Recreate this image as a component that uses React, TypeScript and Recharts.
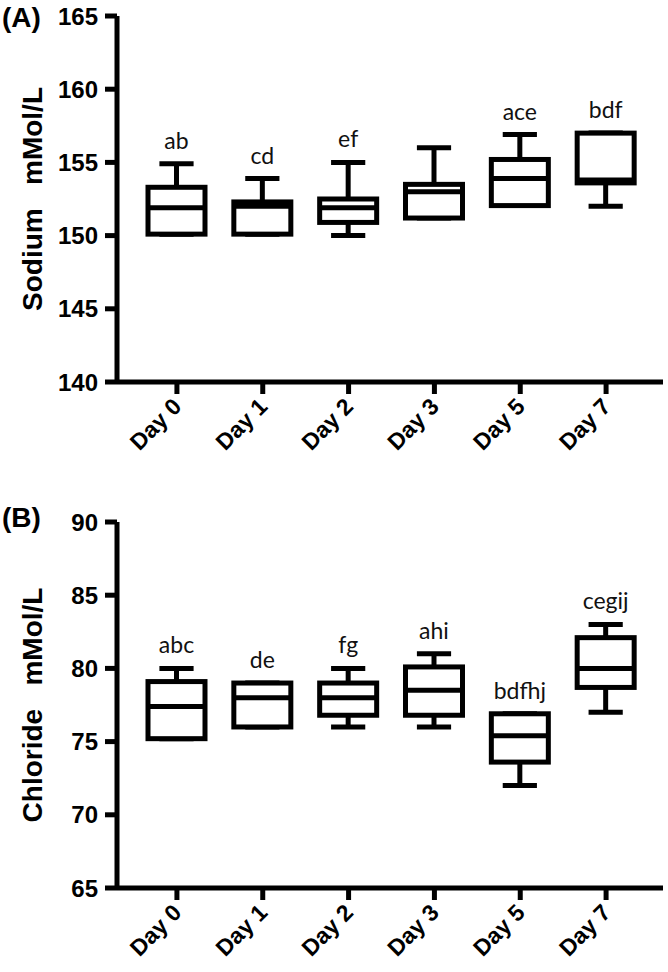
import * as React from "react";
import { ComposedChart, Bar, XAxis, YAxis } from "recharts";

// categories
const days = ["Day 0", "Day 1", "Day 2", "Day 3", "Day 5", "Day 7"];

// (A) sodium, mMol/L
const sodiumMin = [150.1, 150.1, 150, 151.2, 152.05, 152];
const sodiumQ1 = [150.1, 150.1, 150.9, 151.2, 152.05, 153.6];
const sodiumMedian = [151.9, 152.0, 151.9, 153.0, 153.9, 153.8];
const sodiumQ3 = [153.3, 152.3, 152.5, 153.5, 155.2, 157];
const sodiumMax = [154.9, 153.9, 155, 156, 156.9, 157];
const sodiumLetters = ["ab", "cd", "ef", "", "ace", "bdf"];
const sodiumTicks = [140, 145, 150, 155, 160, 165];

// (B) chloride, mMol/L
const chlorideMin = [75.2, 76, 76, 76, 72, 77];
const chlorideQ1 = [75.2, 76, 76.8, 76.8, 73.6, 78.7];
const chlorideMedian = [77.4, 78, 78, 78.5, 75.4, 80];
const chlorideQ3 = [79.1, 79, 79, 80.1, 76.9, 82.1];
const chlorideMax = [80, 79, 80, 81, 76.9, 83];
const chlorideLetters = ["abc", "de", "fg", "ahi", "bdfhj", "cegij"];
const chlorideTicks = [65, 70, 75, 80, 85, 90];

const AXIS_FONT = "'Liberation Sans', Arial, sans-serif";
const LETTER_FONT = "Lato, 'Open Sans', sans-serif";
const LW = 5;

type Row = {
  day: string;
  min: number;
  q1: number;
  median: number;
  q3: number;
  max: number;
  letters: string;
};

const buildRows = (
  min: number[],
  q1: number[],
  median: number[],
  q3: number[],
  max: number[],
  letters: string[]
): Row[] =>
  days.map((day, i) => ({
    day,
    min: min[i],
    q1: q1[i],
    median: median[i],
    q3: q3[i],
    max: max[i],
    letters: letters[i],
  }));

const sodiumRows = buildRows(sodiumMin, sodiumQ1, sodiumMedian, sodiumQ3, sodiumMax, sodiumLetters);
const chlorideRows = buildRows(chlorideMin, chlorideQ1, chlorideMedian, chlorideQ3, chlorideMax, chlorideLetters);

// box + whiskers drawn inside the range bar [min, max]
const BoxShape = (props: any) => {
  const { x, y, width, height, payload } = props;
  const top = Math.min(y, y + height);
  const h = Math.abs(height);
  const span = payload.max - payload.min;
  const py = (v: number) => top + ((payload.max - v) / span) * h;
  const cx = x + width / 2;
  const cap = width * 0.6;
  return (
    <g>
      <line x1={cx} x2={cx} y1={py(payload.max)} y2={py(payload.q3)} stroke="#000" strokeWidth={LW} />
      <line x1={cx} x2={cx} y1={py(payload.q1)} y2={py(payload.min)} stroke="#000" strokeWidth={LW} />
      <line x1={cx - cap / 2} x2={cx + cap / 2} y1={py(payload.max)} y2={py(payload.max)} stroke="#000" strokeWidth={LW} />
      <line x1={cx - cap / 2} x2={cx + cap / 2} y1={py(payload.min)} y2={py(payload.min)} stroke="#000" strokeWidth={LW} />
      <rect
        x={x}
        y={py(payload.q3)}
        width={width}
        height={py(payload.q1) - py(payload.q3)}
        fill="#fff"
        stroke="#000"
        strokeWidth={LW}
      />
      <line x1={x} x2={x + width} y1={py(payload.median)} y2={py(payload.median)} stroke="#000" strokeWidth={LW} />
      <text
        x={cx}
        y={top - 15}
        textAnchor="middle"
        fontFamily={LETTER_FONT}
        fontSize={23}
        fill="#111"
      >
        {payload.letters}
      </text>
    </g>
  );
};

const DayTick = (props: any) => {
  const { x, y, payload } = props;
  const px = x + 6;
  const py = y + 12;
  return (
    <text
      x={px}
      y={py}
      transform={`rotate(-45, ${px}, ${py})`}
      textAnchor="end"
      fontFamily={AXIS_FONT}
      fontWeight="bold"
      fontSize={23}
      fill="#000"
    >
      {payload.value}
    </text>
  );
};

const AxisTitle = (props: any) => {
  const { viewBox, title, tag, tagY } = props;
  const cy = viewBox.y + viewBox.height / 2;
  return (
    <g>
      <text
        x={2}
        y={tagY}
        fontFamily={AXIS_FONT}
        fontWeight="bold"
        fontSize={28}
        fill="#000"
      >
        {tag}
      </text>
      <text
        x={42}
        y={cy}
        transform={`rotate(-90, 42, ${cy})`}
        textAnchor="middle"
        fontFamily={AXIS_FONT}
        fontWeight="bold"
        fontSize={28}
        fill="#000"
      >
        {title}
      </text>
    </g>
  );
};

type PanelProps = {
  rows: Row[];
  domain: [number, number];
  ticks: number[];
  title: string;
  tag: string;
  tagY: number;
  height: number;
  top: number;
  axisHeight: number;
};

const Panel = ({ rows, domain, ticks, title, tag, tagY, height, top, axisHeight }: PanelProps) => (
  <ComposedChart
    width={668}
    height={height}
    data={rows}
    margin={{ top, right: 5, left: 0, bottom: 0 }}
  >
    <XAxis
      dataKey="day"
      height={axisHeight}
      padding={{ left: 17, right: 14 }}
      axisLine={{ stroke: "#000", strokeWidth: LW }}
      tickLine={{ stroke: "#000", strokeWidth: LW }}
      tickSize={12}
      tick={<DayTick />}
      interval={0}
    />
    <YAxis
      type="number"
      domain={domain}
      ticks={ticks}
      width={117}
      allowDataOverflow
      axisLine={{ stroke: "#000", strokeWidth: LW }}
      tickLine={{ stroke: "#000", strokeWidth: LW }}
      tickSize={12}
      tickMargin={7}
      tick={{ fill: "#000", fontSize: 24, fontWeight: "bold", fontFamily: AXIS_FONT }}
      label={<AxisTitle title={title} tag={tag} tagY={tagY} />}
    />
    <Bar
      dataKey={(d: Row) => [d.min, d.max]}
      barSize={57}
      shape={<BoxShape />}
      isAnimationActive={false}
    />
  </ComposedChart>
);

export default function App() {
  return (
    <div style={{ position: "absolute", left: 0, top: 0, width: 668, height: 972, background: "#fff" }}>
      <Panel
        rows={sodiumRows}
        domain={[140, 165]}
        ticks={sodiumTicks}
        title={"Sodium\u00a0\u00a0\u00a0mMol/L"}
        tag="(A)"
        tagY={27}
        height={460}
        top={16}
        axisHeight={78}
      />
      <Panel
        rows={chlorideRows}
        domain={[65, 90]}
        ticks={chlorideTicks}
        title={"Chloride\u00a0\u00a0\u00a0mMol/L"}
        tag="(B)"
        tagY={67}
        height={512}
        top={62}
        axisHeight={84}
      />
    </div>
  );
}
